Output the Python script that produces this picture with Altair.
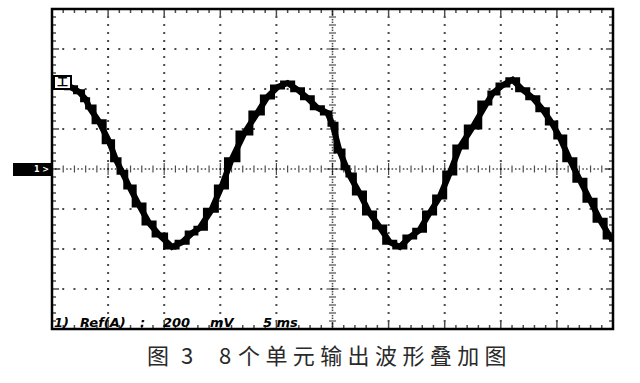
import altair as alt
import pandas as pd
import numpy as np

# Waveform (x in divisions 0-10, y in divisions -4..4)
x_div = [0.04, 0.16, 0.36, 0.48, 0.61, 0.66, 0.84, 1.02, 1.14, 1.25, 1.38, 1.55, 1.73, 1.91,
         2.14, 2.32, 2.50, 2.63, 2.84, 3.02, 3.20, 3.43, 3.66, 3.84, 4.02, 4.20, 4.38, 4.55,
         4.73, 4.91, 5.00, 5.125, 5.25, 5.30, 5.48, 5.66, 5.84, 6.02, 6.20, 6.38, 6.55, 6.73,
         6.91, 7.09, 7.27, 7.50, 7.75, 7.86, 8.04, 8.21, 8.39, 8.57, 8.75, 8.91, 9.05, 9.23,
         9.41, 9.59, 9.77, 9.95, 10.0]
y_div = [2.13, 2.15, 2.03, 1.93, 1.73, 1.55, 1.18, 0.68, 0.23, -0.08, -0.45, -0.90, -1.35, -1.65,
         -1.95, -1.83, -1.60, -1.48, -1.03, -0.45, 0.23, 0.90, 1.40, 1.80, 2.05, 2.15, 1.98, 1.78,
         1.53, 1.40, 1.12, 0.45, 0.03, -0.15, -0.60, -1.10, -1.45, -1.83, -1.95, -1.70, -1.53, -1.10,
         -0.70, -0.10, 0.55, 1.05, 1.65, 1.90, 2.10, 2.23, 1.98, 1.78, 1.48, 1.15, 0.80, 0.23,
         -0.28, -0.78, -1.28, -1.70, -1.75]

caption_chars = ["图", "3", "8", "个", "单", "元", "输", "出", "波", "形", "叠", "加", "图"]
caption_px = [106, 135, 173, 197, 224.4, 251.8, 279.2, 306.6, 334, 361.4, 388.8, 416.2, 443.6]
status_words = ["1)", "Ref(A)", ":", "200", "mV", "5 ms"]
status_px = [2, 28, 88, 111, 158, 211]

W, H = 561, 320
xs = alt.Scale(domain=[0, 10], nice=False, zero=False)
ys = alt.Scale(domain=[-4, 4], nice=False, zero=False)
X = lambda f: alt.X(f, type="quantitative", scale=xs, axis=None)
Y = lambda f: alt.Y(f, type="quantitative", scale=ys, axis=None)

minor_x = np.round(np.arange(0, 10.001, 0.2), 3)
minor_y = np.round(np.arange(-4, 4.001, 0.2), 3)

# dotted graticule
dots = []
for gx in range(1, 10):
    if gx == 5:
        continue
    for yy in minor_y:
        dots.append({"x": gx, "y": yy})
for gy in range(-3, 4):
    if gy == 0:
        continue
    for xx in minor_x:
        dots.append({"x": xx, "y": gy})
dots_df = pd.DataFrame(dots)
grid = alt.Chart(dots_df).mark_square(size=4, color="black").encode(x=X("x"), y=Y("y"))

# centre cross ticks
cx = pd.DataFrame({"x": minor_x, "y": 0, "major": [abs(v - round(v)) < 1e-6 for v in minor_x]})
cy = pd.DataFrame({"y": minor_y, "x": 5, "major": [abs(v - round(v)) < 1e-6 for v in minor_y]})
cx_small = alt.Chart(cx).mark_tick(orient="vertical", color="black", thickness=1.2).encode(
    x=X("x"), y=Y("y"), size=alt.condition("datum.major", alt.value(12), alt.value(7)))
cy_small = alt.Chart(cy).mark_tick(orient="horizontal", color="black", thickness=1.2).encode(
    x=X("x"), y=Y("y"), size=alt.condition("datum.major", alt.value(12), alt.value(7)))
between_x = pd.DataFrame({"x": np.concatenate([minor_x[:-1] + 0.067, minor_x[:-1] + 0.133]), "y": 0})
between_y = pd.DataFrame({"y": np.concatenate([minor_y[:-1] + 0.067, minor_y[:-1] + 0.133]), "x": 5})
bx = alt.Chart(between_x).mark_square(size=2.5, color="black").encode(x=X("x"), y=Y("y"))
by = alt.Chart(between_y).mark_square(size=2.5, color="black").encode(x=X("x"), y=Y("y"))

# edge ticks (clipped so only the inner half shows)
edge_tb = pd.concat([
    pd.DataFrame({"x": minor_x, "y": 4}),
    pd.DataFrame({"x": minor_x, "y": -4}),
])
edge_tb["major"] = [abs(v - round(v)) < 1e-6 for v in edge_tb["x"]]
edge_lr = pd.concat([
    pd.DataFrame({"y": minor_y, "x": 0}),
    pd.DataFrame({"y": minor_y, "x": 10}),
])
edge_lr["major"] = [abs(v - round(v)) < 1e-6 for v in edge_lr["y"]]
etb = alt.Chart(edge_tb).mark_tick(orient="vertical", color="black", thickness=1.5, clip=True).encode(
    x=X("x"), y=Y("y"), size=alt.condition("datum.major", alt.value(14), alt.value(8)))
elr = alt.Chart(edge_lr).mark_tick(orient="horizontal", color="black", thickness=1.5, clip=True).encode(
    x=X("x"), y=Y("y"), size=alt.condition("datum.major", alt.value(14), alt.value(8)))

frame = alt.Chart(pd.DataFrame({"a": [0]})).mark_rect(fill=None, stroke="black", strokeWidth=2.5).encode(
    x=alt.value(0), x2=alt.value(W), y=alt.value(0), y2=alt.value(H))

wave_df = pd.DataFrame({"x": x_div, "y": y_div})
wave = alt.Chart(wave_df).mark_line(color="black", strokeWidth=6, strokeJoin="miter", clip=True).encode(
    x=X("x"), y=Y("y"), order="x:Q")
wave_step = alt.Chart(wave_df).mark_line(color="black", strokeWidth=5, interpolate="step",
                                         strokeJoin="miter", clip=True).encode(
    x=X("x"), y=Y("y"), order="x:Q")

# markers
trig_box = alt.Chart(pd.DataFrame({"a": [0]})).mark_rect(fill="black").encode(
    x=alt.value(1), x2=alt.value(20), y=alt.value(66), y2=alt.value(81))
trig_in = alt.Chart(pd.DataFrame({"a": [0]})).mark_rect(fill="white").encode(
    x=alt.value(3), x2=alt.value(18), y=alt.value(68), y2=alt.value(79))
trig_txt = alt.Chart(pd.DataFrame({"t": ["工"]})).mark_text(
    font="Noto Sans CJK SC", fontSize=11, fontWeight="bold", color="black", baseline="middle").encode(
    x=alt.value(10.5), y=alt.value(73.5), text="t:N")
ch_box = alt.Chart(pd.DataFrame({"a": [0]})).mark_rect(fill="black").encode(
    x=alt.value(-39), x2=alt.value(0), y=alt.value(154), y2=alt.value(167))
ch_txt = alt.Chart(pd.DataFrame({"t": ["1 >"]})).mark_text(
    font="DejaVu Sans", fontSize=8, fontWeight="bold", color="white", baseline="middle", align="right").encode(
    x=alt.value(-3), y=alt.value(160.5), text="t:N")

status = alt.Chart(pd.DataFrame({"t": status_words, "px": status_px})).mark_text(
    font="DejaVu Sans", fontSize=13, fontStyle="italic", fontWeight="bold", color="black",
    align="left", baseline="alphabetic").encode(
    x=alt.X("px:Q", scale=None), y=alt.value(318), text="t:N")

cap = alt.Chart(pd.DataFrame({"t": caption_chars, "px": caption_px})).mark_text(
    font="Noto Sans CJK SC", fontSize=22, color="#2a2a2a", align="center", baseline="middle").encode(
    x=alt.X("px:Q", scale=None), y=alt.value(348), text="t:N")

chart = alt.layer(
    grid, bx, by, cx_small, cy_small, etb, elr, wave, wave_step, frame,
    trig_box, trig_in, trig_txt, ch_box, ch_txt, status, cap
).properties(
    width=W, height=H,
    autosize=alt.AutoSizeParams(type="none"),
    padding={"left": 52, "top": 9, "right": 27, "bottom": 54},
    background="white",
).configure_view(stroke=None)

chart.save("out.html", embed_options={"renderer": "svg", "actions": False})
